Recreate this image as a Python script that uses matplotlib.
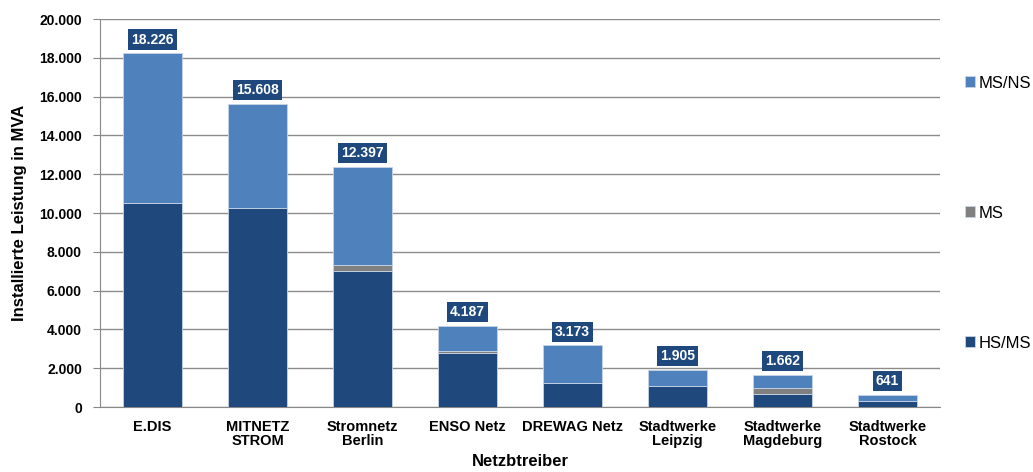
import numpy as np
import matplotlib
matplotlib.use("Agg")
import matplotlib.pyplot as plt

plt.rcParams['font.family'] = ['Liberation Sans', 'DejaVu Sans']

# data (MVA)
betreiber = ["E.DIS", "MITNETZ\nSTROM", "Stromnetz\nBerlin", "ENSO Netz", "DREWAG Netz",
             "Stadtwerke\nLeipzig", "Stadtwerke\nMagdeburg", "Stadtwerke\nRostock"]
hs_ms = [10500, 10250, 7030, 2800, 1240, 1100, 690, 320]
ms = [0, 0, 280, 100, 0, 0, 310, 0]
summen = [18226, 15608, 12397, 4187, 3173, 1905, 1662, 641]
ms_ns = [s - a - b for s, a, b in zip(summen, hs_ms, ms)]

c_hs = '#1F497D'
c_ms = '#808080'
c_ns = '#4F81BD'

fig = plt.figure(figsize=(10.33, 4.72), dpi=100)
ax = fig.add_axes([0.0968, 0.1377, 0.8132, 0.822])

x = np.arange(len(betreiber))
w = 0.57
b1 = ax.bar(x, hs_ms, w, color=c_hs, edgecolor='#c8d4e6', linewidth=0.6, label='HS/MS', zorder=3)
b2 = ax.bar(x, ms, w, bottom=hs_ms, color=c_ms, edgecolor='#c8d4e6', linewidth=0.6, label='MS', zorder=3)
bottom2 = [a + b for a, b in zip(hs_ms, ms)]
b3 = ax.bar(x, ms_ns, w, bottom=bottom2, color=c_ns, edgecolor='#c8d4e6', linewidth=0.6, label='MS/NS', zorder=3)

def fmt(v):
    return "{:,}".format(v).replace(",", ".")

for xi, s in zip(x, summen):
    ax.annotate(fmt(s), (xi, s), xytext=(0, 10), textcoords='offset points',
                ha='center', va='center', color='white', fontsize=10, fontweight='bold',
                bbox=dict(boxstyle='square,pad=0.22', fc=c_hs, ec='none'), zorder=5)

ax.set_ylim(0, 20000)
ax.set_xlim(-0.5, len(betreiber) - 0.5)
ax.set_yticks(np.arange(0, 20001, 2000))
ax.set_yticklabels([fmt(v) for v in range(0, 20001, 2000)], fontsize=10, fontweight='bold')
ax.set_xticks(x)
ax.set_xticklabels(betreiber, fontsize=10.5, fontweight='bold', linespacing=1.05)
ax.tick_params(axis='x', length=0, pad=9)
ax.tick_params(axis='y', length=5, color='#888888', pad=8)

ax.grid(axis='y', color='#8c8c8c', linewidth=1.0, zorder=0)
for sp in ['top', 'right']:
    ax.spines[sp].set_visible(False)
ax.spines['left'].set_color('#888888')
ax.spines['bottom'].set_color('#888888')

ax.set_ylabel("Installierte Leistung in MVA", fontsize=12, fontweight='bold', labelpad=9)
ax.set_xlabel("Netzbtreiber", fontsize=12, fontweight='bold', labelpad=4)

ax.legend([b3, b2, b1], ['MS/NS', 'MS', 'HS/MS'], loc='center left', bbox_to_anchor=(1.02, 0.5),
          frameon=False, fontsize=12, labelspacing=6.9, handlelength=0.6, handleheight=0.6,
          handletextpad=0.2, borderpad=0)

fig.savefig('out.png', dpi=100)
